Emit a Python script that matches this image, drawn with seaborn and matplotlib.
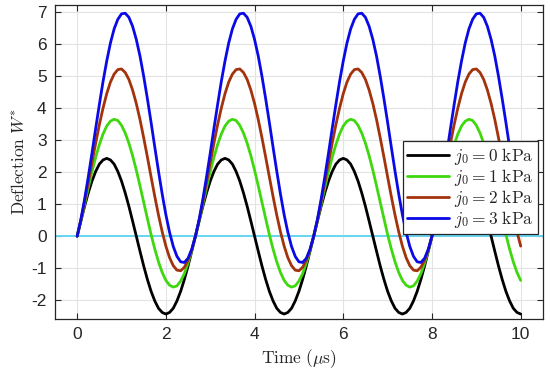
import numpy as np
import pandas as pd
import matplotlib
matplotlib.use("Agg")
import matplotlib.pyplot as plt
import seaborn as sns

time_us = np.linspace(0, 10, 121)

w_j0_0 = [0.00, 0.47, 0.93, 1.35, 1.72, 2.02, 2.25, 2.38, 2.43, 2.38, 2.25, 2.02, 1.72, 1.35, 0.93, 0.47,
          0.00, -0.47, -0.93, -1.35, -1.72, -2.02, -2.25, -2.38, -2.43, -2.38, -2.25, -2.02, -1.72, -1.35, -0.93, -0.47,
          0.00, 0.47, 0.93, 1.35, 1.72, 2.02, 2.25, 2.38, 2.43, 2.38, 2.25, 2.02, 1.72, 1.35, 0.93, 0.47,
          0.00, -0.47, -0.93, -1.35, -1.72, -2.02, -2.25, -2.38, -2.43, -2.38, -2.25, -2.02, -1.72, -1.35, -0.93, -0.47,
          0.00, 0.47, 0.93, 1.35, 1.72, 2.02, 2.25, 2.38, 2.43, 2.38, 2.25, 2.02, 1.72, 1.35, 0.93, 0.47,
          0.00, -0.47, -0.93, -1.35, -1.72, -2.02, -2.25, -2.38, -2.43, -2.38, -2.25, -2.02, -1.72, -1.35, -0.93, -0.47,
          0.00, 0.47, 0.93, 1.35, 1.72, 2.02, 2.25, 2.38, 2.43, 2.38, 2.25, 2.02, 1.72, 1.35, 0.93, 0.47,
          0.00, -0.47, -0.93, -1.35, -1.72, -2.02, -2.25, -2.38, -2.43]

w_j0_1 = [0.00, 0.49, 1.00, 1.51, 2.01, 2.46, 2.86, 3.19, 3.44, 3.59, 3.65, 3.61, 3.46, 3.22, 2.90, 2.51,
          2.06, 1.57, 1.06, 0.55, 0.05, -0.40, -0.80, -1.13, -1.38, -1.53, -1.59, -1.55, -1.40, -1.17, -0.84, -0.45,
          0.00, 0.49, 1.00, 1.51, 2.01, 2.46, 2.86, 3.19, 3.44, 3.59, 3.65, 3.61, 3.46, 3.22, 2.90, 2.51,
          2.06, 1.57, 1.06, 0.55, 0.05, -0.40, -0.80, -1.13, -1.38, -1.53, -1.59, -1.55, -1.40, -1.17, -0.84, -0.45,
          0.00, 0.49, 1.00, 1.51, 2.01, 2.46, 2.86, 3.19, 3.44, 3.59, 3.65, 3.61, 3.46, 3.22, 2.90, 2.51,
          2.06, 1.57, 1.06, 0.55, 0.05, -0.40, -0.80, -1.13, -1.38, -1.53, -1.59, -1.55, -1.40, -1.17, -0.84, -0.45,
          0.00, 0.49, 1.00, 1.51, 2.01, 2.46, 2.86, 3.19, 3.44, 3.59, 3.65, 3.61, 3.46, 3.22, 2.90, 2.51,
          2.06, 1.57, 1.06, 0.55, 0.05, -0.40, -0.80, -1.13, -1.38]

w_j0_2 = [0.00, 0.50, 1.07, 1.67, 2.29, 2.90, 3.48, 4.00, 4.45, 4.81, 5.06, 5.20, 5.22, 5.11, 4.89, 4.56,
          4.14, 3.64, 3.07, 2.47, 1.85, 1.24, 0.66, 0.14, -0.31, -0.67, -0.92, -1.06, -1.08, -0.97, -0.75, -0.43,
          0.00, 0.50, 1.07, 1.67, 2.29, 2.90, 3.48, 4.00, 4.45, 4.81, 5.06, 5.20, 5.22, 5.11, 4.89, 4.56,
          4.14, 3.64, 3.07, 2.47, 1.85, 1.24, 0.66, 0.14, -0.31, -0.67, -0.92, -1.06, -1.08, -0.97, -0.75, -0.43,
          0.00, 0.50, 1.07, 1.67, 2.29, 2.90, 3.48, 4.00, 4.45, 4.81, 5.06, 5.20, 5.22, 5.11, 4.89, 4.56,
          4.14, 3.64, 3.07, 2.47, 1.85, 1.24, 0.66, 0.14, -0.31, -0.67, -0.92, -1.06, -1.08, -0.97, -0.75, -0.43,
          0.00, 0.50, 1.07, 1.67, 2.29, 2.90, 3.48, 4.00, 4.45, 4.81, 5.06, 5.20, 5.22, 5.11, 4.89, 4.56,
          4.14, 3.64, 3.07, 2.47, 1.85, 1.24, 0.66, 0.14, -0.31]

w_j0_3 = [0.00, 0.52, 1.15, 1.85, 2.59, 3.36, 4.11, 4.83, 5.47, 6.03, 6.47, 6.77, 6.94, 6.96, 6.83, 6.55,
          6.14, 5.62, 4.99, 4.29, 3.55, 2.78, 2.03, 1.32, 0.67, 0.12, -0.32, -0.63, -0.80, -0.82, -0.69, -0.41,
          0.00, 0.52, 1.15, 1.85, 2.59, 3.36, 4.11, 4.83, 5.47, 6.03, 6.47, 6.77, 6.94, 6.96, 6.83, 6.55,
          6.14, 5.62, 4.99, 4.29, 3.55, 2.78, 2.03, 1.32, 0.67, 0.12, -0.32, -0.63, -0.80, -0.82, -0.69, -0.41,
          0.00, 0.52, 1.15, 1.85, 2.59, 3.36, 4.11, 4.83, 5.47, 6.03, 6.47, 6.77, 6.94, 6.96, 6.83, 6.55,
          6.14, 5.62, 4.99, 4.29, 3.55, 2.78, 2.03, 1.32, 0.67, 0.12, -0.32, -0.63, -0.80, -0.82, -0.69, -0.41,
          0.00, 0.52, 1.15, 1.85, 2.59, 3.36, 4.11, 4.83, 5.47, 6.03, 6.47, 6.77, 6.94, 6.96, 6.83, 6.55,
          6.14, 5.62, 4.99, 4.29, 3.55, 2.78, 2.03, 1.32, 0.67]

series_labels = [r"$j_0 = 0\ \mathrm{kPa}$", r"$j_0 = 1\ \mathrm{kPa}$",
                 r"$j_0 = 2\ \mathrm{kPa}$", r"$j_0 = 3\ \mathrm{kPa}$"]
series_values = [w_j0_0, w_j0_1, w_j0_2, w_j0_3]
series_colors = ["#000000", "#3fd80f", "#a3330d", "#0a0ae6"]

x_ticks = [0, 2, 4, 6, 8, 10]
y_ticks = [-2, -1, 0, 1, 2, 3, 4, 5, 6, 7]

# ---- build long-form table ----
frames = []
for lab, vals in zip(series_labels, series_values):
    frames.append(pd.DataFrame({"t": time_us, "W": vals, "series": lab}))
df = pd.concat(frames, ignore_index=True)

sns.set_theme(style="white")
plt.rcParams["font.family"] = ["Liberation Sans", "DejaVu Sans"]
plt.rcParams["mathtext.fontset"] = "cm"
plt.rcParams["axes.unicode_minus"] = False

fig = plt.figure(figsize=(5.5, 3.76), dpi=100)
ax = fig.add_axes([0.1, 0.152, 0.887, 0.835])

ax.axhline(0, color="#66d6f2", lw=1.4, zorder=1)
sns.lineplot(data=df, x="t", y="W", hue="series", hue_order=series_labels,
             palette=series_colors, lw=2.0, ax=ax, sort=False, zorder=3)

ax.set_xlim(-0.5, 10.5)
ax.set_ylim(-2.58, 7.22)
ax.set_xticks(x_ticks)
ax.set_yticks(y_ticks)
ax.set_xticklabels([str(v) for v in x_ticks])
ax.set_yticklabels([str(v) for v in y_ticks])
ax.tick_params(direction="in", length=4, width=0.8, labelsize=12.5, colors="#262626",
               top=True, right=True, bottom=True, left=True, pad=6)
ax.grid(True, color="#e3e3e3", lw=0.8)
for s in ax.spines.values():
    s.set_color("#262626")
    s.set_linewidth(0.9)
    s.set_visible(True)

ax.set_xlabel(r"$\mathrm{Time}\ (\mu\mathrm{s})$", fontsize=12.5, labelpad=4)
ax.set_ylabel(r"$\mathrm{Deflection}\ W^{*}$", fontsize=12.5, labelpad=3)

leg = ax.legend(loc="upper right", bbox_to_anchor=(0.99, 0.565), fontsize=12.5,
                frameon=True, fancybox=False, edgecolor="#262626", framealpha=1,
                handlelength=2.4, borderpad=0.25, labelspacing=0.0, handletextpad=0.3,
                borderaxespad=0.0)
leg.get_frame().set_linewidth(0.9)

fig.savefig("out.png", dpi=100)
